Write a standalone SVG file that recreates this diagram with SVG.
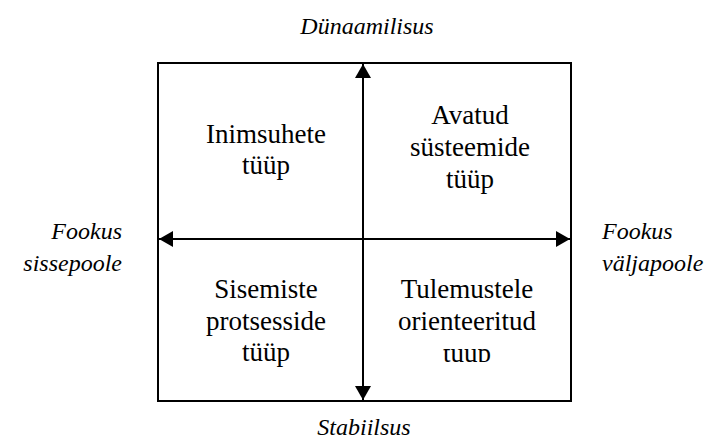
<svg xmlns="http://www.w3.org/2000/svg" width="717" height="447" viewBox="0 0 717 447">
<style>
.q{font-family:"Liberation Serif","Times New Roman",serif;font-size:27px;fill:#000;text-anchor:middle}
.l{font-family:"Liberation Serif","Times New Roman",serif;font-size:24px;font-style:italic;fill:#000}
.ln{stroke:#000;stroke-width:2;fill:none}
</style>
<defs>
<marker id="ah" viewBox="0 0 14 16" refX="14" refY="8" markerWidth="14" markerHeight="16" markerUnits="userSpaceOnUse" orient="auto">
<path d="M0,0 L14,8 L0,16 Z" fill="#000"/>
</marker>
<clipPath id="clipBR"><rect x="370" y="349" width="200" height="13"/></clipPath>
</defs>
<rect id="frame" x="158" y="63" width="413" height="338" fill="#fff" stroke="#000" stroke-width="2"/>
<g id="connectors">
<line class="ln" x1="363" y1="239" x2="363" y2="64" marker-end="url(#ah)"/>
<line class="ln" x1="363" y1="239" x2="363" y2="400" marker-end="url(#ah)"/>
<line class="ln" x1="363" y1="239" x2="159" y2="239" marker-end="url(#ah)"/>
<line class="ln" x1="363" y1="239" x2="570" y2="239" marker-end="url(#ah)"/>
</g>
<g id="q-tl"><text class="q" x="266" y="143">Inimsuhete</text><text class="q" x="266" y="174">tüüp</text></g>
<g id="q-tr"><text class="q" x="470" y="124">Avatud</text><text class="q" x="470" y="156">süsteemide</text><text class="q" x="470" y="188">tüüp</text></g>
<g id="q-bl"><text class="q" x="266" y="298">Sisemiste</text><text class="q" x="266" y="330">protsesside</text><text class="q" x="266" y="361">tüüp</text></g>
<g id="q-br"><text class="q" x="467" y="298">Tulemustele</text><text class="q" x="467" y="330">orienteeritud</text><text class="q" x="467" y="362" clip-path="url(#clipBR)">tüüp</text></g>
<g id="l-top"><text class="l" x="367" y="34" text-anchor="middle">Dünaamilisus</text></g>
<g id="l-bottom"><text class="l" x="364" y="435" text-anchor="middle">Stabiilsus</text></g>
<g id="l-left"><text class="l" x="122" y="239" text-anchor="end">Fookus</text><text class="l" x="122" y="271" text-anchor="end">sissepoole</text></g>
<g id="l-right"><text class="l" x="602" y="239">Fookus</text><text class="l" x="602" y="271">väljapoole</text></g>
</svg>
